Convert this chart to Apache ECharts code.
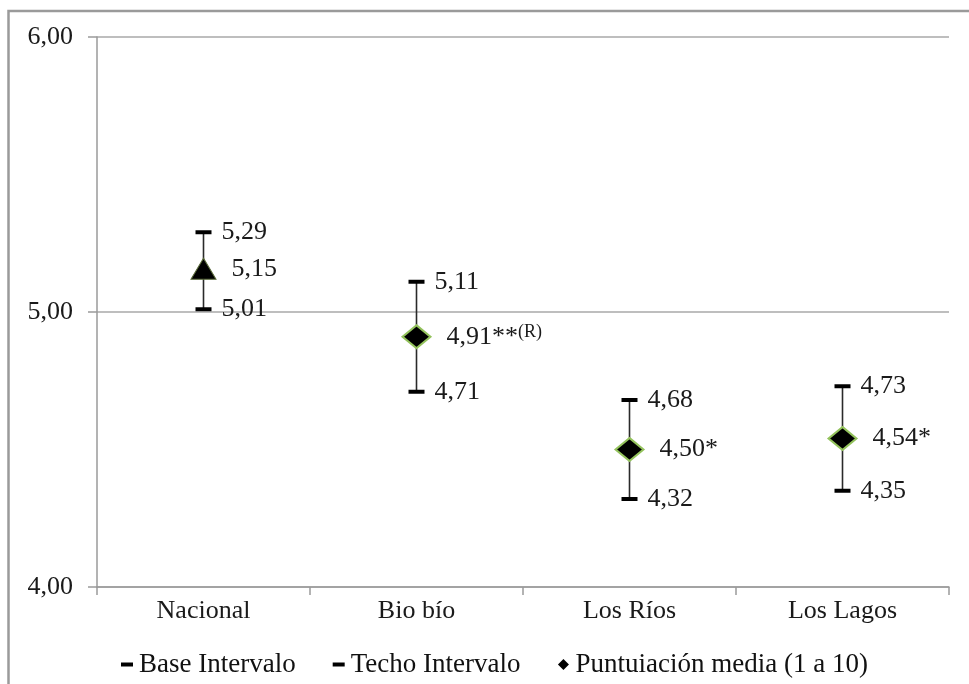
<!DOCTYPE html>
<html>
<head>
<meta charset="utf-8">
<script src="https://cdn.jsdelivr.net/npm/echarts@6/dist/echarts.min.js"></script>
<style>
html,body{margin:0;padding:0;background:#fff;}
#chart{width:969px;height:684px;}
</style>
</head>
<body>
<div id="chart"></div>
<script>
var categories = ['Nacional', 'Bio bío', 'Los Ríos', 'Los Lagos'];
var lowValues = [5.01, 4.71, 4.32, 4.35];
var meanValues = [5.15, 4.91, 4.50, 4.54];
var highValues = [5.29, 5.11, 4.68, 4.73];
var meanSuffixes = ['', '**', '*', '*'];
var meanSupers = ['', '(R)', '', ''];
var yTicks = [4, 5, 6];

function fmt(v) { return v.toFixed(2).replace('.', ','); }

var FONT = '"Liberation Serif", "Times New Roman", serif';
var FS = 26;
var chart = echarts.init(document.getElementById('chart'), null, {renderer: 'canvas'});

var dashIcon = 'path://M0,0M14,14M1,5h12v4h-12z';
var diamondIcon = 'path://M0,0M14,14M7,1.5L12.5,7L7,12.5L1.5,7Z';

var errData = categories.map(function (c, i) { return [i, lowValues[i], highValues[i]]; });

var meanData = categories.map(function (c, i) {
  var item = {
    value: [i, meanValues[i]],
    label: {
      formatter: '{n|' + fmt(meanValues[i]) + meanSuffixes[i] + '}' + (meanSupers[i] ? '{s|' + meanSupers[i] + '}' : '')
    }
  };
  if (i === 0) {
    item.symbol = 'triangle';
    item.symbolSize = [25, 21];
    item.symbolOffset = [0, -2];
    item.itemStyle = {borderColor: '#5a6a3a', borderWidth: 1};
  }
  return item;
});

var option = {
  backgroundColor: '#fff',
  animation: false,
  textStyle: {fontFamily: FONT},
  graphic: [{
    type: 'rect',
    shape: {x: 8.5, y: 11, width: 1000, height: 700},
    style: {fill: 'none', stroke: '#9a9a9a', lineWidth: 2.5},
    silent: true, z: -1
  }],
  grid: {left: 97, right: 20, top: 37, bottom: 97},
  legend: {
    left: 115, top: 646,
    itemWidth: 14, itemHeight: 14, itemGap: 36,
    textStyle: {fontFamily: FONT, fontSize: 27, color: '#111'},
    data: [
      {name: 'Base Intervalo', icon: dashIcon},
      {name: 'Techo Intervalo', icon: dashIcon},
      {name: 'Puntuiación media (1 a 10)', icon: diamondIcon, itemStyle: {color: '#000', borderWidth: 0, opacity: 1}}
    ]
  },
  xAxis: {
    type: 'category',
    data: categories,
    boundaryGap: true,
    axisLine: {lineStyle: {color: '#9a9a9a', width: 1.5}},
    axisTick: {show: true, length: 8, lineStyle: {color: '#9a9a9a', width: 1.5}},
    axisLabel: {fontFamily: FONT, fontSize: FS, color: '#1a1a1a', margin: 11}
  },
  yAxis: {
    type: 'value',
    min: 4, max: 6, interval: 1,
    axisLine: {show: true, lineStyle: {color: '#9a9a9a', width: 1.5}},
    axisTick: {show: true, length: 9, lineStyle: {color: '#9a9a9a', width: 1.5}},
    splitLine: {lineStyle: {color: '#a8a8a8', width: 1.5}},
    axisLabel: {
      fontFamily: FONT, fontSize: FS, color: '#1a1a1a', margin: 24,
      formatter: function (v) { return yTicks.indexOf(v) >= 0 ? fmt(v) : ''; }
    }
  },
  series: [
    {
      type: 'custom',
      name: 'err',
      z: 2,
      data: errData,
      encode: {x: 0, y: [1, 2]},
      renderItem: function (params, api) {
        var p1 = api.coord([api.value(0), api.value(1)]);
        var p2 = api.coord([api.value(0), api.value(2)]);
        return {
          type: 'line',
          shape: {x1: p1[0], y1: p1[1], x2: p2[0], y2: p2[1]},
          style: {stroke: '#2a2a2a', lineWidth: 1.6}
        };
      },
      silent: true
    },
    {
      type: 'scatter',
      name: 'Base Intervalo',
      z: 3,
      symbol: 'rect',
      symbolSize: [16, 4],
      itemStyle: {color: '#000', opacity: 1},
      data: categories.map(function (c, i) { return [i, lowValues[i]]; }),
      label: {
        show: true, position: 'right', distance: 10,
        fontFamily: FONT, fontSize: FS, color: '#1a1a1a',
        formatter: function (p) { return fmt(p.value[1]); }
      }
    },
    {
      type: 'scatter',
      name: 'Techo Intervalo',
      z: 3,
      symbol: 'rect',
      symbolSize: [16, 4],
      itemStyle: {color: '#000', opacity: 1},
      data: categories.map(function (c, i) { return [i, highValues[i]]; }),
      label: {
        show: true, position: 'right', distance: 10,
        fontFamily: FONT, fontSize: FS, color: '#1a1a1a',
        formatter: function (p) { return fmt(p.value[1]); }
      }
    },
    {
      type: 'scatter',
      name: 'Puntuiación media (1 a 10)',
      z: 4,
      symbol: 'diamond',
      symbolSize: [28, 23],
      itemStyle: {color: '#000', borderColor: '#93c25c', borderWidth: 2, opacity: 1},
      data: meanData,
      label: {
        show: true, position: 'right', distance: 15,
        fontFamily: FONT, fontSize: FS, color: '#1a1a1a',
        rich: {
          n: {fontFamily: FONT, fontSize: FS, color: '#1a1a1a', verticalAlign: 'bottom'},
          s: {fontFamily: FONT, fontSize: 18, color: '#1a1a1a', verticalAlign: 'top'}
        }
      }
    }
  ]
};
chart.setOption(option);
</script>
</body>
</html>
